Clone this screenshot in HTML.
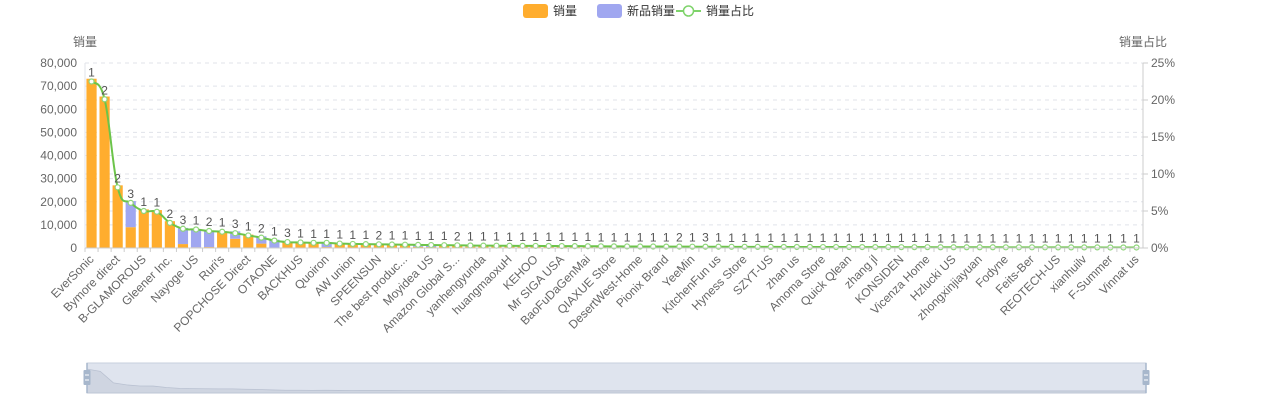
<!DOCTYPE html>
<html><head><meta charset="utf-8">
<style>
body{margin:0;background:#fff;}
svg{display:block;font-family:"Liberation Sans","Noto Sans CJK SC",sans-serif;}
</style></head>
<body>
<svg id="chart" width="1278" height="400" viewBox="0 0 1278 400" xmlns="http://www.w3.org/2000/svg">
  <g>
    <g>
      <rect x="523" y="4" width="25" height="14" rx="3" fill="#ffad2e"/>
      <text x="553" y="15" font-size="12" fill="#333">销量</text>
    </g>
    <g>
      <rect x="597" y="4" width="25" height="14" rx="3" fill="#a0a7f0"/>
      <text x="627" y="15" font-size="12" fill="#333">新品销量</text>
    </g>
    <g>
      <line x1="676" y1="11" x2="701" y2="11" stroke="#7ed36a" stroke-width="2"/>
      <circle cx="688.5" cy="11" r="5" fill="#fff" stroke="#7ed36a" stroke-width="1.5"/>
      <text x="706" y="15" font-size="12" fill="#333">销量占比</text>
    </g>
  </g>
  <text x="85" y="46" font-size="12" fill="#666" text-anchor="middle">销量</text>
  <text x="1143" y="46" font-size="12" fill="#666" text-anchor="middle">销量占比</text>
  <g id="grid"></g>
  <g id="bars"></g>
  <g id="line"></g>
  <g id="axes"></g>
  <g id="zoom"></g>
</svg>
<script>
const categories = ["EverSonic","Store 2","Bymore direct","Store 4","B-GLAMOROUS","Store 6","Gleener Inc.","Store 8","Nayoge US","Store 10","Ruri's","Store 12","POPCHOSE Direct","Store 14","OTAONE","Store 16","BACKHUS","Store 18","Quoiron","Store 20","AW union","Store 22","SPEENSUN","Store 24","The best produc...","Store 26","Moyidea US","Store 28","Amazon Global S...","Store 30","yanhengyunda","Store 32","huangmaoxuH","Store 34","KEHOO","Store 36","Mr SIGA USA","Store 38","BaoFuDaGenMai","Store 40","QIAXUE Store","Store 42","DesertWest-Home","Store 44","Pionix Brand","Store 46","YeeMin","Store 48","KitchenFun us","Store 50","Hyness Store","Store 52","SZYT-US","Store 54","zhan us","Store 56","Amoma Store","Store 58","Quick Qlean","Store 60","zhang jl","Store 62","KONSIDEN","Store 64","Vicenza Home","Store 66","Hzlucki US","Store 68","zhongxinjiayuan","Store 70","Fodyne","Store 72","Feits-Ber","Store 74","REOTECH-US","Store 76","xianhuilv","Store 78","F-Summer","Store 80","Vinnat us"];
const salesValues = [73200,65500,27100,9000,16700,16400,11600,1700,300,400,7200,4000,5800,1900,200,2500,2500,2200,400,1800,1700,1500,1500,1400,1300,500,400,1200,1100,600,1000,1000,900,900,800,800,800,700,700,700,650,650,600,600,600,550,550,500,500,500,480,460,450,440,430,420,400,400,380,370,360,350,340,330,320,310,300,300,290,280,270,260,250,240,230,220,210,200,200,190,180];
const newSalesValues = [0,0,0,11300,0,0,0,7000,7700,7100,0,3200,0,3200,3400,0,0,0,2100,0,0,0,0,0,0,800,900,0,0,500,0,0,0,0,0,0,0,0,0,0,0,0,0,0,0,0,0,0,0,0,0,0,0,0,0,0,0,0,0,0,0,0,0,0,0,0,0,0,0,0,0,0,0,0,0,0,0,0,0,0,0];
const ratioValues = [22.5,20.1,8.2,6.1,5.0,4.9,3.4,2.6,2.5,2.3,2.2,2.0,1.7,1.4,1.0,0.8,0.75,0.7,0.7,0.6,0.55,0.52,0.5,0.47,0.45,0.42,0.4,0.38,0.36,0.34,0.32,0.31,0.3,0.29,0.28,0.27,0.26,0.25,0.24,0.23,0.22,0.21,0.2,0.2,0.19,0.19,0.18,0.17,0.17,0.16,0.16,0.15,0.15,0.14,0.14,0.14,0.13,0.13,0.13,0.12,0.12,0.12,0.11,0.11,0.11,0.1,0.1,0.1,0.1,0.1,0.09,0.09,0.09,0.09,0.08,0.08,0.08,0.08,0.07,0.07,0.07];
const countLabels = [1,2,2,3,1,1,2,3,1,2,1,3,1,2,1,3,1,1,1,1,1,1,2,1,1,1,1,1,2,1,1,1,1,1,1,1,1,1,1,1,1,1,1,1,1,2,1,3,1,1,1,1,1,1,1,1,1,1,1,1,1,1,1,1,1,1,1,1,1,1,1,1,1,1,1,1,1,1,1,1,1];
const leftTicks = [0,10000,20000,30000,40000,50000,60000,70000,80000];
const rightTicks = [0,5,10,15,20,25];

const NS="http://www.w3.org/2000/svg";
const X0=85,X1=1143,Y0=248,Y1=63;
const n=categories.length, band=(X1-X0)/n;
const xC=i=>X0+band*(i+0.5);
const yL=v=>Y0-(v/80000)*(Y0-Y1);
const yR=v=>Y0-(v/25)*(Y0-Y1);
function mk(tag,attrs,parent){const e=document.createElementNS(NS,tag);for(const k in attrs)e.setAttribute(k,attrs[k]);parent.appendChild(e);return e;}
const grid=document.getElementById('grid'),bars=document.getElementById('bars'),lineG=document.getElementById('line'),axes=document.getElementById('axes'),zoomG=document.getElementById('zoom');

leftTicks.forEach(t=>{
  const y=yL(t);
  if(t>0){const g=mk('line',{x1:X0,x2:X1,y1:y,y2:y,stroke:'#e0e3ea','stroke-dasharray':'4,4'},grid);
  
  }
  const tx=mk('text',{x:X0-8,y:y+4,'font-size':12,fill:'#666','text-anchor':'end'},axes);
  tx.textContent=t.toLocaleString('en-US');
  
  
});
rightTicks.forEach(t=>{
  const y=yR(t);
  if(t>0){const g=mk('line',{x1:X0,x2:X1,y1:y,y2:y,stroke:'#e0e3ea','stroke-dasharray':'4,4'},grid);
  
  }
  mk('line',{x1:X1,x2:X1+5,y1:y,y2:y,stroke:'#ccc'},axes);
  const tx=mk('text',{x:X1+8,y:y+4,'font-size':12,fill:'#666'},axes);
  tx.textContent=t+'%';
  
  
});
const la=mk('line',{x1:X0,x2:X0,y1:Y1,y2:Y0,stroke:'#e0e3ea'},axes);


const ra=mk('line',{x1:X1,x2:X1,y1:Y1,y2:Y0,stroke:'#ccc'},axes);


const xa=mk('line',{x1:X0,x2:X1,y1:Y0,y2:Y0,stroke:'#ccc'},axes);



const bw=band*0.78;
categories.forEach((c,i)=>{
  const s=salesValues[i],nv=newSalesValues[i];
  if(s>0){const r=mk('rect',{x:xC(i)-bw/2,y:yL(s),width:bw,height:Y0-yL(s),fill:'#ffad2e'},bars);
  
  }
  if(nv>0){const r=mk('rect',{x:xC(i)-bw/2,y:yL(s+nv),width:bw,height:yL(s)-yL(s+nv),fill:'#a0a7f0'},bars);
  
  }
  const tk=mk('line',{x1:X0+band*i,x2:X0+band*i,y1:Y0,y2:Y0+4,stroke:'#ccc'},axes);
  if(i%2===0){
    const t=mk('text',{x:xC(i)+3,y:Y0+12,'font-size':12,fill:'#666','text-anchor':'end',transform:`rotate(-45 ${xC(i)+3} ${Y0+12})`},axes);
    t.textContent=c;
    
    
  }
});
// smooth line
const pts=ratioValues.map((v,i)=>[xC(i),yR(v)]);
let d=`M${pts[0][0]},${pts[0][1]}`;
for(let i=0;i<pts.length-1;i++){
  const p0=pts[Math.max(0,i-1)],p1=pts[i],p2=pts[i+1],p3=pts[Math.min(pts.length-1,i+2)];
  const k=0.2;
  d+=` C${p1[0]+(p2[0]-p0[0])*k},${p1[1]+(p2[1]-p0[1])*k} ${p2[0]-(p3[0]-p1[0])*k},${p2[1]-(p3[1]-p1[1])*k} ${p2[0]},${p2[1]}`;
}
const path=mk('path',{d:d,fill:'none',stroke:'#6cc44a','stroke-width':2},lineG);


pts.forEach((p,i)=>{
  const c=mk('circle',{cx:p[0],cy:p[1],r:2.5,fill:'#fff',stroke:'#8fd67a','stroke-width':1.2},lineG);
  
  
  const t=mk('text',{x:p[0],y:p[1]-5,'font-size':12,fill:'#555','text-anchor':'middle'},lineG);
  t.textContent=countLabels[i];
  
  
});
// data zoom
const ZX0=87,ZX1=1146,ZY0=363,ZY1=393;
const zb=mk('rect',{x:ZX0,y:ZY0,width:ZX1-ZX0,height:ZY1-ZY0,fill:'#dfe4ee',stroke:'#c7cfdd'},zoomG);


const zs=(ZX1-ZX0)/(n-1);
let zd=`M${ZX0},${ZY1}`;
salesValues.forEach((v,i)=>{zd+=` L${ZX0+zs*i},${ZY1-2-((v+newSalesValues[i])/80000)*24}`;});
zd+=` L${ZX1},${ZY1} Z`;
const za=mk('path',{d:zd,fill:'#cfd5e1',stroke:'#b9c1d1','stroke-width':0.8},zoomG);


[ZX0,ZX1].forEach((hx,j)=>{
  const h=mk('rect',{x:hx-3.5,y:370,width:7,height:15,fill:'#a7b7cc',rx:1},zoomG);
  
  
  mk('line',{x1:hx,x2:hx,y1:ZY0,y2:ZY1,stroke:'#a7b7cc','stroke-width':1.5},zoomG);
  mk('line',{x1:hx-2,x2:hx+2,y1:375,y2:375,stroke:'#fff'},zoomG);
  mk('line',{x1:hx-2,x2:hx+2,y1:380,y2:380,stroke:'#fff'},zoomG);
});
</script>
</body></html>
